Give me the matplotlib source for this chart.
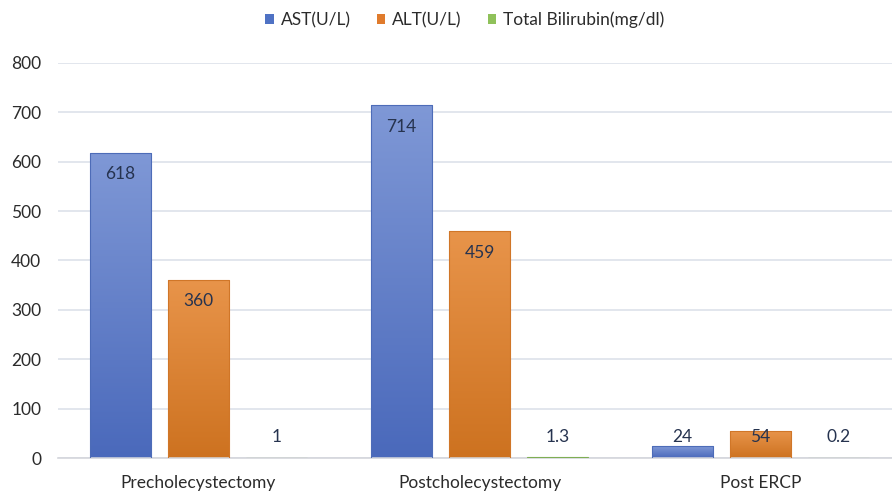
import matplotlib
matplotlib.use("Agg")
import matplotlib.pyplot as plt
import numpy as np
from matplotlib.colors import LinearSegmentedColormap
from matplotlib.patches import Patch

plt.rcParams['font.family'] = ['Lato', 'DejaVu Sans']

stages = ["Precholecystectomy", "Postcholecystectomy", "Post ERCP"]
ast = [618, 714, 24]
alt = [360, 459, 54]
bilirubin = [1, 1.3, 0.2]
series_names = ["AST(U/L)", "ALT(U/L)", "Total Bilirubin(mg/dl)"]
yticks = [0, 100, 200, 300, 400, 500, 600, 700, 800]

# (top colour, bottom colour, edge colour, legend colour)
styles = [
    ("#7f98d6", "#4a69bb", "#4d6cb8", "#4f72c4"),
    ("#e8944a", "#cd7220", "#d07628", "#e07b2c"),
    ("#a9d18e", "#7fae54", "#7fae54", "#8fc15a"),
]

fig = plt.figure(figsize=(8.92, 4.94), dpi=100)
# plot area runs a little past the right edge of the figure
ax = fig.add_axes([58 / 892, 1 - 458 / 494, 843 / 892, 395 / 494])

x = np.arange(len(stages))
width = 0.218
offsets = [-0.277, 0.0, 0.277]
label_color = "#26334f"

for vals, off, (top, bottom, edge, _) in zip([ast, alt, bilirubin], offsets, styles):
    bars = ax.bar(x + off, vals, width, color="none", edgecolor=edge, linewidth=0.8, zorder=3)
    cmap = LinearSegmentedColormap.from_list("grad", [bottom, top])
    for b, v in zip(bars, vals):
        x0, w, h = b.get_x(), b.get_width(), b.get_height()
        grad = np.linspace(0, 1, 256).reshape(-1, 1)
        im = ax.imshow(grad, cmap=cmap, origin="lower", aspect="auto",
                       extent=[x0, x0 + w, 0, h], zorder=2)
        im.set_clip_path(b)
        ty = max(v - 43, 43)
        ax.text(x0 + w / 2, ty, f"{v:g}", ha="center", va="center",
                fontsize=12.5, color=label_color, zorder=4)

ax.set_xlim(-0.5, len(stages) - 0.5)
ax.set_ylim(0, 800)
ax.set_yticks(yticks)
ax.set_yticklabels([str(t) for t in yticks], fontsize=12.5, color="#2b2b2b")
ax.set_xticks(x)
ax.set_xticklabels(stages, fontsize=12.5, color="#2b2b2b")
ax.tick_params(axis="y", length=0, pad=12)
ax.tick_params(axis="x", length=0, pad=12)
ax.yaxis.grid(True, color="#dde1ea", linewidth=1.2, zorder=0)
ax.set_axisbelow(True)
for s in ["top", "right", "left"]:
    ax.spines[s].set_visible(False)
ax.spines["bottom"].set_color("#d4d6dc")
ax.spines["bottom"].set_linewidth(1.2)

handles = [Patch(facecolor=st[3], edgecolor="none") for st in styles]
fig.legend(handles, series_names, loc="center", bbox_to_anchor=(0.521, 0.96), ncol=3,
           frameon=False, fontsize=12.5, handlelength=0.5, handleheight=0.5,
           handletextpad=0.4, columnspacing=1.5, labelcolor="#2b2b2b")

fig.savefig("out.png", dpi=100)
